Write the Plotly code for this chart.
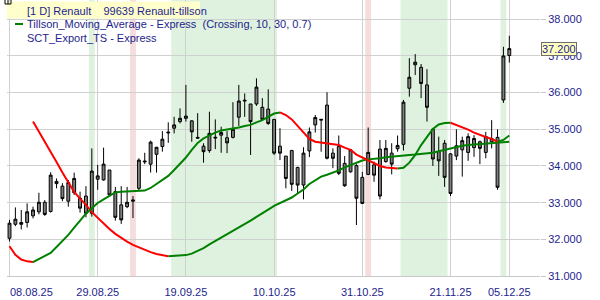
import plotly.graph_objects as go
import pandas as pd

# ---------------- data ----------------
dates = pd.bdate_range("2025-08-08", "2025-12-05")
date_labels = [d.strftime("%d.%m.%y") for d in dates]

open_ = [32.03, 32.41, 32.46, 32.46, 32.64, 32.75, 33.01, 32.76, 33.52, 33.45,
         33.04, 33.27, 33.12, 33.18, 32.71, 33.64, 33.62, 33.89, 33.30, 32.94,
         32.89, 33.04, 33.39, 34.11, 34.05, 34.32, 34.53, 34.90, 35.03, 35.21,
         35.30, 35.23, 34.78, 34.54, 34.42, 34.76, 34.84, 34.77, 34.78, 35.33,
         35.77, 35.69, 35.69, 35.60, 35.55, 35.27, 34.54, 34.27, 34.42, 33.96,
         33.48, 34.41, 35.12, 35.25, 35.66, 34.35, 34.53, 34.07, 33.84, 34.01,
         33.69, 33.77, 34.03, 34.46, 34.12, 34.35, 34.47, 34.59, 36.12, 36.76,
         36.69, 36.21, 35.00, 34.39, 34.62, 34.33, 34.27, 34.44, 34.37, 34.50,
         34.66, 34.37, 34.66, 34.78, 35.80, 37.01]
high = [32.53, 32.87, 32.80, 32.98, 32.89, 33.27, 33.07, 33.83, 33.66, 33.53,
        33.62, 33.82, 33.30, 33.45, 34.48, 34.03, 34.50, 33.89, 33.43, 33.45,
        33.43, 33.18, 34.21, 34.36, 34.69, 34.52, 34.95, 35.19, 35.34, 35.57,
        36.21, 35.25, 35.44, 34.62, 35.48, 35.27, 35.07, 34.95, 35.74, 36.21,
        35.98, 35.69, 36.39, 35.85, 36.09, 35.27, 35.03, 34.27, 34.44, 33.98,
        34.51, 35.05, 35.39, 35.28, 36.01, 34.48, 34.83, 34.27, 34.44, 34.05,
        33.84, 35.05, 34.12, 34.71, 34.71, 34.62, 34.83, 35.80, 36.94, 37.05,
        36.78, 36.64, 35.03, 34.80, 34.71, 34.35, 35.00, 34.80, 34.89, 34.84,
        34.69, 34.93, 35.25, 35.00, 37.25, 37.55]
low = [31.94, 32.36, 32.27, 32.32, 32.57, 32.68, 32.64, 32.73, 33.39, 33.04,
       32.89, 33.21, 32.73, 32.60, 32.62, 33.35, 33.60, 33.18, 32.51, 32.42,
       32.85, 32.58, 33.33, 34.05, 33.82, 33.82, 34.39, 34.63, 34.89, 35.16,
       35.21, 34.66, 34.75, 34.09, 34.36, 34.46, 34.36, 34.35, 34.75, 35.09,
       35.34, 34.30, 35.64, 35.25, 35.12, 34.30, 34.16, 33.39, 33.32, 33.24,
       33.09, 34.24, 34.91, 34.39, 34.18, 33.94, 33.75, 33.43, 33.82, 32.39,
       32.96, 33.75, 33.57, 33.09, 34.09, 33.77, 34.39, 34.42, 35.89, 36.48,
       35.85, 35.21, 34.00, 33.73, 33.43, 33.18, 34.16, 33.71, 34.14, 34.25,
       34.05, 34.21, 34.48, 33.35, 35.72, 36.82]
close = [32.44, 32.55, 32.41, 32.75, 32.80, 33.01, 32.68, 33.75, 33.58, 33.11,
         33.55, 33.66, 32.85, 32.71, 33.86, 33.73, 34.05, 33.21, 32.60, 32.53,
         33.01, 33.07, 34.16, 34.13, 34.65, 34.51, 34.73, 34.92, 35.12, 35.30,
         35.36, 34.93, 34.76, 34.39, 34.89, 34.78, 34.91, 34.63, 35.00, 35.77,
         35.79, 35.21, 36.15, 35.27, 35.16, 34.35, 34.35, 33.66, 33.50, 33.48,
         34.35, 34.93, 35.32, 35.27, 34.21, 34.21, 33.80, 33.46, 34.44, 33.12,
         32.98, 34.37, 33.75, 33.18, 34.48, 34.05, 34.56, 35.74, 36.42, 36.83,
         36.25, 35.60, 34.19, 34.14, 33.69, 33.25, 34.55, 34.69, 34.80, 34.75,
         34.48, 34.80, 34.75, 33.42, 37.00, 37.20]

# Tillson T3 (10) - from first bar
fast_t3 = [31.81, 31.58, 31.45, 31.40, 31.38, 31.46, 31.55, 31.63, 31.79, 31.95,
           32.12, 32.32, 32.51, 32.70, 32.85, 32.99, 33.09, 33.18, 33.28, 33.30,
           33.31, 33.31, 33.32, 33.33, 33.40, 33.51, 33.62, 33.73, 33.89, 34.05,
           34.23, 34.44, 34.63, 34.75, 34.84, 34.91, 34.97, 34.99, 35.03, 35.05,
           35.09, 35.12, 35.19, 35.25, 35.34, 35.43, 35.46, 35.39, 35.27, 35.09,
           34.93, 34.74, 34.66, 34.64, 34.61, 34.59, 34.57, 34.50, 34.44, 34.31,
           34.23, 34.14, 34.07, 34.00, 33.96, 33.94, 33.93, 33.95, 34.09, 34.30,
           34.57, 34.80, 35.01, 35.13, 35.17, 35.18, 35.12, 35.06, 34.99, 34.91,
           34.84, 34.79, 34.74, 34.66, 34.71, 34.83]
# Tillson T3 (30) - starts at 5th bar
slow_start = 4
slow_t3 = [35.21, 34.94, 34.67, 34.39, 34.11, 33.82, 33.54, 33.29, 33.11, 32.94,
           32.74, 32.58, 32.44, 32.28, 32.15, 32.04, 31.94, 31.85, 31.78, 31.71,
           31.65, 31.60, 31.56, 31.54, 31.55, 31.56, 31.57, 31.61, 31.68, 31.76,
           31.86, 31.95, 32.05, 32.13, 32.23, 32.32, 32.42, 32.51, 32.61, 32.70,
           32.81, 32.91, 32.98, 33.06, 33.14, 33.25, 33.36, 33.51, 33.62, 33.71,
           33.76, 33.81, 33.88, 33.96, 34.03, 34.09, 34.15, 34.18, 34.19, 34.21,
           34.24, 34.26, 34.27, 34.28, 34.30, 34.31, 34.32, 34.34, 34.36, 34.40,
           34.44, 34.48, 34.52, 34.55, 34.57, 34.58, 34.60, 34.61, 34.62, 34.64,
           34.65, 34.66]

green_zones = [("28.08.25", "28.08.25"), ("17.09.25", "10.10.25"),
               ("11.11.25", "20.11.25"), ("04.12.25", "04.12.25")]
red_zones = [("08.09.25", "08.09.25"), ("03.11.25", "03.11.25")]

tick_labels = ["08.08.25", "29.08.25", "19.09.25", "10.10.25", "31.10.25", "21.11.25", "05.12.25"]
price_ticks = [31, 32, 33, 34, 35, 36, 37, 38]
last_price = 37.20

# ---------------- layout geometry ----------------
W, H = 600, 300
ML, MR, MT, MB = 7, 60, 0, 24
PW, PH = W - ML - MR, H - MT - MB
PX_PER_BAR = 5.88
PX_PER_EUR = 36.675

def fx(px):
    return (px - ML) / PW

def fy(py):
    return 1 - (py - MT) / PH

FONT = "Liberation Sans, Arial, sans-serif"
TXT = "#1e1e8c"
GRID = "#d0d0d0"

xs = list(range(len(date_labels)))

fig = go.Figure()

# signal zones
for zones, col in ((green_zones, "#dff1df"), (red_zones, "#f6dddd")):
    for a, b in zones:
        i0, i1 = date_labels.index(a), date_labels.index(b)
        fig.add_shape(type="rect", xref="x", yref="paper", x0=i0 - 0.5, x1=i1 + 0.5,
                      y0=0, y1=1, fillcolor=col, line=dict(width=0), layer="below")

# candles
fig.add_trace(go.Candlestick(
    x=xs, open=open_, high=high, low=low, close=close,
    increasing=dict(line=dict(color="black", width=1), fillcolor="#808080"),
    decreasing=dict(line=dict(color="black", width=1), fillcolor="#808080"),
    whiskerwidth=0, hoverinfo="skip", showlegend=False))

# T3 lines coloured by direction
def add_colored(vals, start):
    px_ = list(range(start, start + len(vals)))
    seg_x, seg_y = [px_[0]], [vals[0]]
    cur = None
    for k in range(1, len(vals)):
        up = vals[k] >= vals[k - 1]
        if cur is None:
            cur = up
        if up != cur:
            fig.add_trace(go.Scatter(x=seg_x, y=seg_y, mode="lines",
                                     line=dict(color="#008000" if cur else "#ff0000", width=2),
                                     hoverinfo="skip", showlegend=False))
            seg_x, seg_y = [px_[k - 1]], [vals[k - 1]]
            cur = up
        seg_x.append(px_[k])
        seg_y.append(vals[k])
    fig.add_trace(go.Scatter(x=seg_x, y=seg_y, mode="lines",
                             line=dict(color="#008000" if cur else "#ff0000", width=2),
                             hoverinfo="skip", showlegend=False))

add_colored(slow_t3, slow_start)
add_colored(fast_t3, 0)

tick_idx = [date_labels.index(t) for t in tick_labels]
tick_txt = [""] + tick_labels[1:]

x0 = -(9.5 - ML) / PX_PER_BAR
fig.update_layout(
    width=W, height=H, margin=dict(l=ML, r=MR, t=MT, b=MB),
    paper_bgcolor="white", plot_bgcolor="white",
    font=dict(family=FONT, size=11, color=TXT),
    showlegend=False,
    xaxis=dict(range=[x0, x0 + PW / PX_PER_BAR], tickvals=tick_idx, ticktext=tick_txt,
               showgrid=True, gridcolor=GRID, gridwidth=1, zeroline=False,
               showline=True, linecolor="#c8c8c8", linewidth=1, ticks="",
               rangeslider=dict(visible=False), tickfont=dict(family=FONT, size=11, color=TXT),
               ticklabelstandoff=6, fixedrange=True),
    yaxis=dict(side="right", range=[31, 31 + PH / PX_PER_EUR], tickvals=price_ticks,
               tickformat=".3f", showgrid=True, gridcolor=GRID, gridwidth=1, zeroline=False,
               ticks="outside", ticklen=5, tickcolor="#c8c8c8", showline=False,
               tickfont=dict(family=FONT, size=11, color=TXT), fixedrange=True),
)

# first date label (left aligned at the chart edge)
fig.add_annotation(xref="paper", yref="paper", x=fx(8), y=fy(292), text=tick_labels[0],
                   showarrow=False, xanchor="left", yanchor="middle",
                   font=dict(family=FONT, size=11, color=TXT))

# legend header box
fig.add_shape(type="rect", xref="paper", yref="paper", x0=fx(7), x1=fx(200),
              y0=fy(18.5), y1=fy(1.5), fillcolor="#ffffcc", line=dict(width=0), layer="above")
fig.add_shape(type="rect", xref="paper", yref="paper", x0=fx(5), x1=fx(11),
              y0=fy(4), y1=fy(-3), fillcolor="rgba(0,0,0,0)", line=dict(color="black", width=1))
fig.add_shape(type="line", xref="paper", yref="paper", x0=fx(8), x1=fx(8),
              y0=fy(4), y1=fy(0), line=dict(color="black", width=1))
fig.add_shape(type="line", xref="paper", yref="paper", x0=fx(15), x1=fx(23),
              y0=fy(24), y1=fy(24), line=dict(color="#008000", width=2))

legend_lines = [
    ("[1 D] Renault\u00a0\u00a0\u00a0 99639 Renault-tillson", 10.5),
    ("Tillson_Moving_Average - Express\u00a0\u00a0(Crossing, 10, 30, 0.7)", 24),
    ("SCT_Export_TS - Express", 37.5),
]
for txt, py in legend_lines:
    fig.add_annotation(xref="paper", yref="paper", x=fx(25), y=fy(py), text=txt,
                       showarrow=False, xanchor="left", yanchor="middle",
                       font=dict(family=FONT, size=11, color=TXT))

# last price marker
fig.add_annotation(xref="paper", yref="y", x=fx(541), y=last_price, text=f"{last_price:.3f}",
                   showarrow=False, xanchor="left", yanchor="middle",
                   bgcolor="#ffffc0", bordercolor="#6e6e6e", borderwidth=1, borderpad=0,
                   font=dict(family=FONT, size=11, color=TXT))

fig.write_html("out.html")
